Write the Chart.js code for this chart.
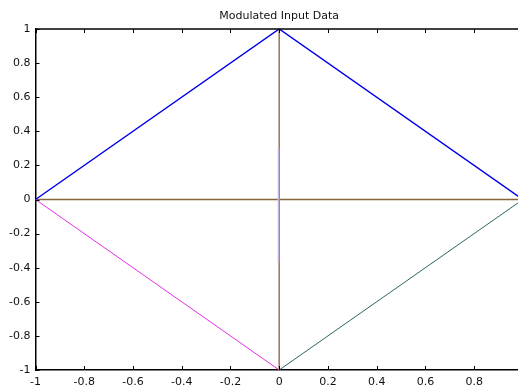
<!DOCTYPE html>
<html>
<head>
<meta charset="utf-8">
<style>
  html, body { margin: 0; padding: 0; background: #fff; }
  #wrap { width: 518px; height: 390px; position: relative; }
</style>
<script src="https://cdn.jsdelivr.net/npm/chart.js@4/dist/chart.umd.min.js"></script>
</head>
<body>
<div id="wrap"><canvas id="c" width="518" height="390"></canvas></div>
<script>
"use strict";

var titleText = 'Modulated Input Data';

// axis ticks
var xTicks = [-1, -0.8, -0.6, -0.4, -0.2, 0, 0.2, 0.4, 0.6, 0.8];
var yTicks = [-1, -0.8, -0.6, -0.4, -0.2, 0, 0.2, 0.4, 0.6, 0.8, 1];

// series (x / y pairs)
var blueX = [-1, 0, 1],      blueY = [0, 1, 0];
var magentaX = [-1, 0],      magentaY = [0, -1];
var greenX = [0, 1],         greenY = [-1, 0];
var horizX = [-1, 1],        horizY = [0, 0];
var vertX = [0, 0],          vertY = [-1, 1];
var vertLightX = [-0.003, -0.003], vertLightY = [-0.37, 0.3];

function pts(xs, ys) {
    return xs.map(function (x, i) { return { x: x, y: ys[i] }; });
}

function line(label, xs, ys, color, width) {
    return {
        label: label,
        data: pts(xs, ys),
        showLine: true,
        borderColor: color,
        borderWidth: width,
        pointRadius: 0,
        fill: false,
        tension: 0
    };
}

var FONT = '"DejaVu Sans", "Liberation Sans", sans-serif';

function fmt(v) { return String(v); }

// inward tick marks, top border and title
var matlabAxes = {
    id: 'matlabAxes',
    afterDraw: function (chart) {
        var ctx = chart.ctx, a = chart.chartArea,
            xs = chart.scales.x, ys = chart.scales.y;
        ctx.save();
        ctx.strokeStyle = '#000';
        ctx.lineWidth = 1.5;
        ctx.beginPath();
        ctx.moveTo(a.left, a.top);
        ctx.lineTo(a.right, a.top);
        ctx.stroke();
        ctx.lineWidth = 1;
        ctx.beginPath();
        xTicks.forEach(function (v) {
            var px = Math.round(xs.getPixelForValue(v)) + 0.5;
            ctx.moveTo(px, a.bottom);
            ctx.lineTo(px, a.bottom - 4);
            ctx.moveTo(px, a.top);
            ctx.lineTo(px, a.top + 4);
        });
        yTicks.forEach(function (v) {
            var py = Math.round(ys.getPixelForValue(v)) + 0.5;
            ctx.moveTo(a.left, py);
            ctx.lineTo(a.left + 4, py);
        });
        ctx.stroke();

        ctx.fillStyle = '#111';
        ctx.font = '11px ' + FONT;
        ctx.textAlign = 'center';
        ctx.textBaseline = 'alphabetic';
        var cx = (xs.getPixelForValue(-1) + xs.getPixelForValue(1)) / 2;
        ctx.fillText(titleText, cx, 18.5);
        ctx.restore();
    }
};

new Chart(document.getElementById('c').getContext('2d'), {
    type: 'scatter',
    data: {
        datasets: [
            line('vlight', vertLightX, vertLightY, '#c4b4e0', 1.5),
            line('vert', vertX, vertY, '#a26e52', 1.5),
            line('blue', blueX, blueY, '#0000e8', 1.5),
            line('magenta', magentaX, magentaY, '#e030e0', 1),
            line('green', greenX, greenY, '#2f6464', 1),
            line('horiz', horizX, horizY, '#86663a', 1.6)
        ]
    },
    options: {
        responsive: false,
        animation: false,
        layout: { padding: { top: 29, right: 0, left: 0, bottom: 0 } },
        plugins: {
            legend: { display: false },
            tooltip: { enabled: false },
            title: { display: false }
        },
        scales: {
            x: {
                type: 'linear',
                min: -1,
                max: 0.98,
                afterBuildTicks: function (s) {
                    s.ticks = xTicks.map(function (v) { return { value: v }; });
                },
                afterFit: function (s) { s.height = 20; },
                grid: { drawOnChartArea: false, drawTicks: false },
                border: { display: true, color: '#000', width: 1.5 },
                ticks: {
                    color: '#111',
                    padding: 6,
                    maxRotation: 0,
                    autoSkip: false,
                    callback: fmt,
                    font: { family: FONT, size: 11 }
                }
            },
            y: {
                type: 'linear',
                min: -1,
                max: 1,
                afterBuildTicks: function (s) {
                    s.ticks = yTicks.map(function (v) { return { value: v }; });
                },
                afterFit: function (s) { s.width = 35.5; },
                grid: { drawOnChartArea: false, drawTicks: false },
                border: { display: true, color: '#000', width: 1.5 },
                ticks: {
                    color: '#111',
                    padding: 5,
                    autoSkip: false,
                    callback: fmt,
                    font: { family: FONT, size: 11 }
                }
            }
        }
    },
    plugins: [matlabAxes]
});
</script>
</body>
</html>
